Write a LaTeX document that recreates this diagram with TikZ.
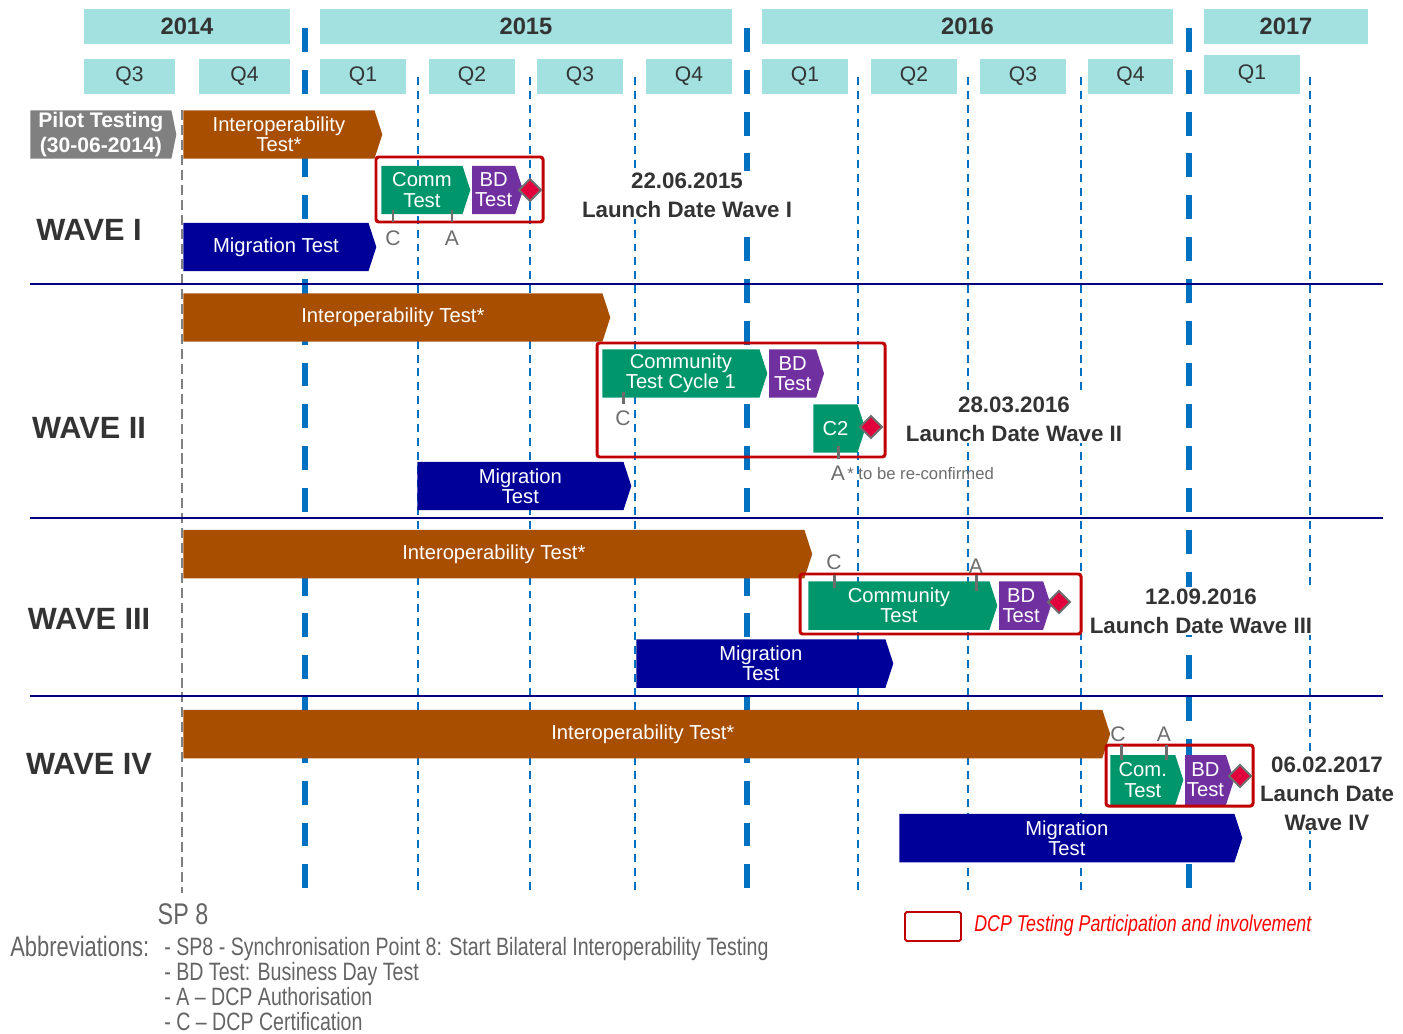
\documentclass[tikz,border=0pt]{standalone}
\usepackage{fontspec}
\setmainfont{Liberation Sans}
\newfontfamily\narrowfont[FakeStretch=0.78,Ligatures=TeX]{Liberation Sans}
\usetikzlibrary{shapes.symbols}
\usetikzlibrary{shapes.geometric}
\usetikzlibrary{positioning}
\definecolor{headteal}{RGB}{163,224,224}
\definecolor{darktext}{RGB}{51,51,51}
\definecolor{interorange}{RGB}{168,78,0}
\definecolor{migblue}{RGB}{0,0,153}
\definecolor{commgreen}{RGB}{0,150,107}
\definecolor{bdpurple}{RGB}{112,48,160}
\definecolor{pilotgray}{RGB}{128,128,128}
\definecolor{dcpred}{RGB}{192,0,0}
\definecolor{launchred}{RGB}{225,0,60}
\definecolor{diamgray}{RGB}{110,110,110}
\definecolor{tickgray}{RGB}{109,109,109}
\definecolor{lineblue}{RGB}{0,112,192}
\definecolor{navy}{RGB}{0,0,128}
\definecolor{abbrgray}{RGB}{100,100,100}
\definecolor{legendred}{RGB}{255,0,0}
\tikzset{
    yearbox/.style = {fill=headteal, minimum height=0.70cm, inner sep=0, text=darktext, font=\fontsize{13.5}{13.5}\selectfont\bfseries},
    qbox/.style = {fill=headteal, minimum height=0.70cm, inner sep=0, text=darktext, font=\fontsize{12}{12}\selectfont},
    bar/.style = {signal, signal to=east, signal pointer angle=144, anchor=west, inner sep=0, minimum height=0.97cm, align=center, text=white, font=\fontsize{11.5}{11.5}\selectfont},
    pilotbar/.style = {bar, fill=pilotgray, signal pointer angle=157, font=\fontsize{12}{14}\selectfont\bfseries},
    interbar/.style = {bar, fill=interorange},
    migbar/.style = {bar, fill=migblue},
    commbar/.style = {bar, fill=commgreen},
    bdbar/.style = {bar, fill=bdpurple},
    dcpbox/.style = {draw=dcpred, line width=1.7pt, rounded corners=1.5pt},
    launch/.style = {diamond, fill=launchred, draw=diamgray, line width=1.1pt, minimum size=0.46cm, inner sep=0},
    tick/.style = {draw=tickgray, line width=1.7pt},
    calabel/.style = {text=tickgray, inner sep=0, font=\fontsize{12}{12}\selectfont},
    wavelabel/.style = {text=darktext, font=\fontsize{17.5}{17.5}\selectfont\bfseries},
    datelabel/.style = {fill=white, text=darktext, align=center, inner sep=1pt, font=\fontsize{12.7}{16.4}\selectfont\bfseries},
    yearline/.style = {draw=lineblue, line width=3.4pt, dash pattern=on 13.6pt off 10.2pt},
    qline/.style = {draw=lineblue, line width=1.1pt, dash pattern=on 4.5pt off 3.4pt},
    sp8line/.style = {draw=pilotgray, line width=1.7pt, dash pattern=on 5.7pt off 2.8pt},
    waveline/.style = {draw=navy, line width=1.4pt},
    abbrtext/.style = {anchor=west, inner sep=0, text=abbrgray, align=left, font=\narrowfont\fontsize{14.3}{14.3}\selectfont}
}
\begin{document}
\begin{tikzpicture}[x=0.02cm, y=-0.02cm]
  \useasboundingbox (0,0) rectangle (1403,1034);
  % time grid
  \foreach \xx in {305,747,1189} \draw[yearline] (\xx,28) -- (\xx,892);
  \foreach \xx in {418,530,635,858,968,1081,1310} \draw[qline] (\xx,77) -- (\xx,892);
  \draw[sp8line] (182,110) -- (182,893);
  \foreach \yy in {284,518,696} \draw[waveline] (30,\yy) -- (1383,\yy);
  % header
  \node[yearbox, minimum width=4.12cm] (y2014) at (187,26.5) {2014};
  \node[yearbox, minimum width=8.24cm] (y2015) at (526,26.5) {2015};
  \node[yearbox, minimum width=8.22cm] (y2016) at (967.5,26.5) {2016};
  \node[yearbox, minimum width=3.28cm] (y2017) at (1286,26.5) {2017};
  \foreach \xc/\qw/\qn [count=\i] in {129.5/1.82/Q3, 244.5/1.82/Q4, 363/1.72/Q1, 472/1.72/Q2, 580/1.72/Q3, 689/1.72/Q4, 805/1.72/Q1, 914/1.72/Q2, 1023/1.72/Q3, 1130.5/1.70/Q4}
    \node[qbox, minimum width=\qw cm] (q\i) at (\xc,76.5) {\qn};
  \node[qbox, minimum width=1.92cm, minimum height=0.78cm] (q11) at (1252,74.5) {Q1};
  % wave I
  \node[wavelabel] (wave1) at (89,230) {WAVE I};
  \node[pilotbar, minimum width=2.92cm] (pilot) at (30,134.5) {Pilot Testing\\(30-06-2014)};
  \node[interbar, minimum width=3.98cm] (inter1) at (183,134.5) {Interoperability\\Test*};
  \node[commbar, minimum width=1.78cm] (comm1) at (381,190) {Comm\\Test};
  \node[bdbar, minimum width=1.02cm, right=0.02cm of comm1] (bd1) {BD\\Test};
  \node[migbar, minimum width=3.86cm] (mig1) at (183,247) {Migration Test};
  \draw[dcpbox] (376,157) rectangle (543,222);
  \node[launch] (go1) at (530,190) {};
  \draw[tick] (393,210) -- (393,222);
  \draw[tick] (452,210) -- (452,222);
  \node[calabel] (cert1) at (393,238) {C};
  \node[calabel] (auth1) at (452,238) {A};
  \node[datelabel] (date1) at (687,195) {22.06.2015\\Launch Date Wave I};
  % wave II
  \node[wavelabel] (wave2) at (89,428) {WAVE II};
  \node[interbar, minimum width=8.54cm] (inter2) at (183,317.5) {Interoperability Test*};
  \node[commbar, minimum width=3.30cm] (comm2) at (602,373.5) {Community\\Test Cycle 1};
  \node[bdbar, minimum width=1.10cm, right=0.02cm of comm2] (bd2) {BD\\Test};
  \node[commbar, minimum width=1.04cm] (cyc2) at (813,428.5) {C2};
  \node[migbar, minimum width=4.28cm] (mig2) at (417,486) {Migration\\Test};
  \draw[dcpbox] (597,343) rectangle (885,457);
  \node[launch] (go2) at (871,427) {};
  \draw[tick] (623,392) -- (623,404);
  \draw[tick] (838,446) -- (838,459);
  \node[calabel] (cert2) at (623,418) {C};
  \node[calabel] (auth2) at (838,473) {A};
  \node[anchor=west, inner sep=0, text=tickgray, font=\fontsize{9.5}{9.5}\selectfont] (note2) at (847,474) {* to be re-confirmed};
  \node[datelabel] (date2) at (1014,419) {28.03.2016\\Launch Date Wave II};
  % wave III
  \node[wavelabel] (wave3) at (89,619) {WAVE III};
  \node[interbar, minimum width=12.58cm] (inter3) at (183,554) {Interoperability Test*};
  \node[commbar, minimum width=3.78cm] (comm3) at (808,605.5) {Community\\Test};
  \node[bdbar, minimum width=1.04cm, right=0.02cm of comm3] (bd3) {BD\\Test};
  \node[migbar, minimum width=5.14cm] (mig3) at (636,663.5) {Migration\\Test};
  \draw[dcpbox] (800,574) rectangle (1081,634);
  \node[launch] (go3) at (1059,602) {};
  \draw[tick] (834,575) -- (834,588);
  \draw[tick] (976,575) -- (976,591);
  \node[calabel] (cert3) at (834,562) {C};
  \node[calabel] (auth3) at (976,566) {A};
  \node[datelabel] (date3) at (1201,611) {12.09.2016\\Launch Date Wave III};
  % wave IV
  \node[wavelabel] (wave4) at (89,764) {WAVE IV};
  \node[interbar, minimum width=18.54cm] (inter4) at (183,734) {Interoperability Test*};
  \node[commbar, minimum width=1.46cm, minimum height=1.00cm] (comm4) at (1110,780) {Com.\\Test};
  \node[bdbar, minimum width=0.98cm, minimum height=1.00cm, right=0.02cm of comm4] (bd4) {BD\\Test};
  \node[migbar, minimum width=6.86cm] (mig4) at (899,838) {Migration\\Test};
  \draw[dcpbox] (1106,745) rectangle (1253,806);
  \node[launch] (go4) at (1240,776) {};
  \draw[tick] (1121,745) -- (1121,760);
  \draw[tick] (1166,745) -- (1166,760);
  \node[calabel] (cert4) at (1118,734) {C};
  \node[calabel] (auth4) at (1164,734) {A};
  \node[datelabel, inner sep=0] (date4) at (1327,794) {06.02.2017\\Launch Date\\Wave IV};
  % footer
  \node[text=abbrgray, font=\narrowfont\fontsize{17}{17}\selectfont] (sp8) at (183,914) {SP 8};
  \node[abbrtext, font=\narrowfont\fontsize{16}{16}\selectfont] (abbr) at (10,946) {Abbreviations:};
  \node[abbrtext] (abbrlist) at (164,984)
    {- SP8 - Synchronisation Point 8: Start Bilateral Interoperability Testing\\- BD Test: Business Day Test\\- A – DCP Authorisation\\- C – DCP Certification};
  \draw[draw=dcpred, line width=1.1pt, rounded corners=1pt] (905,912) rectangle (961,941);
  \node[anchor=west, inner sep=0, text=legendred, font=\narrowfont\itshape\fontsize{13}{13}\selectfont] (legend) at (974,926) {DCP Testing Participation and involvement};
\end{tikzpicture}
\end{document}
